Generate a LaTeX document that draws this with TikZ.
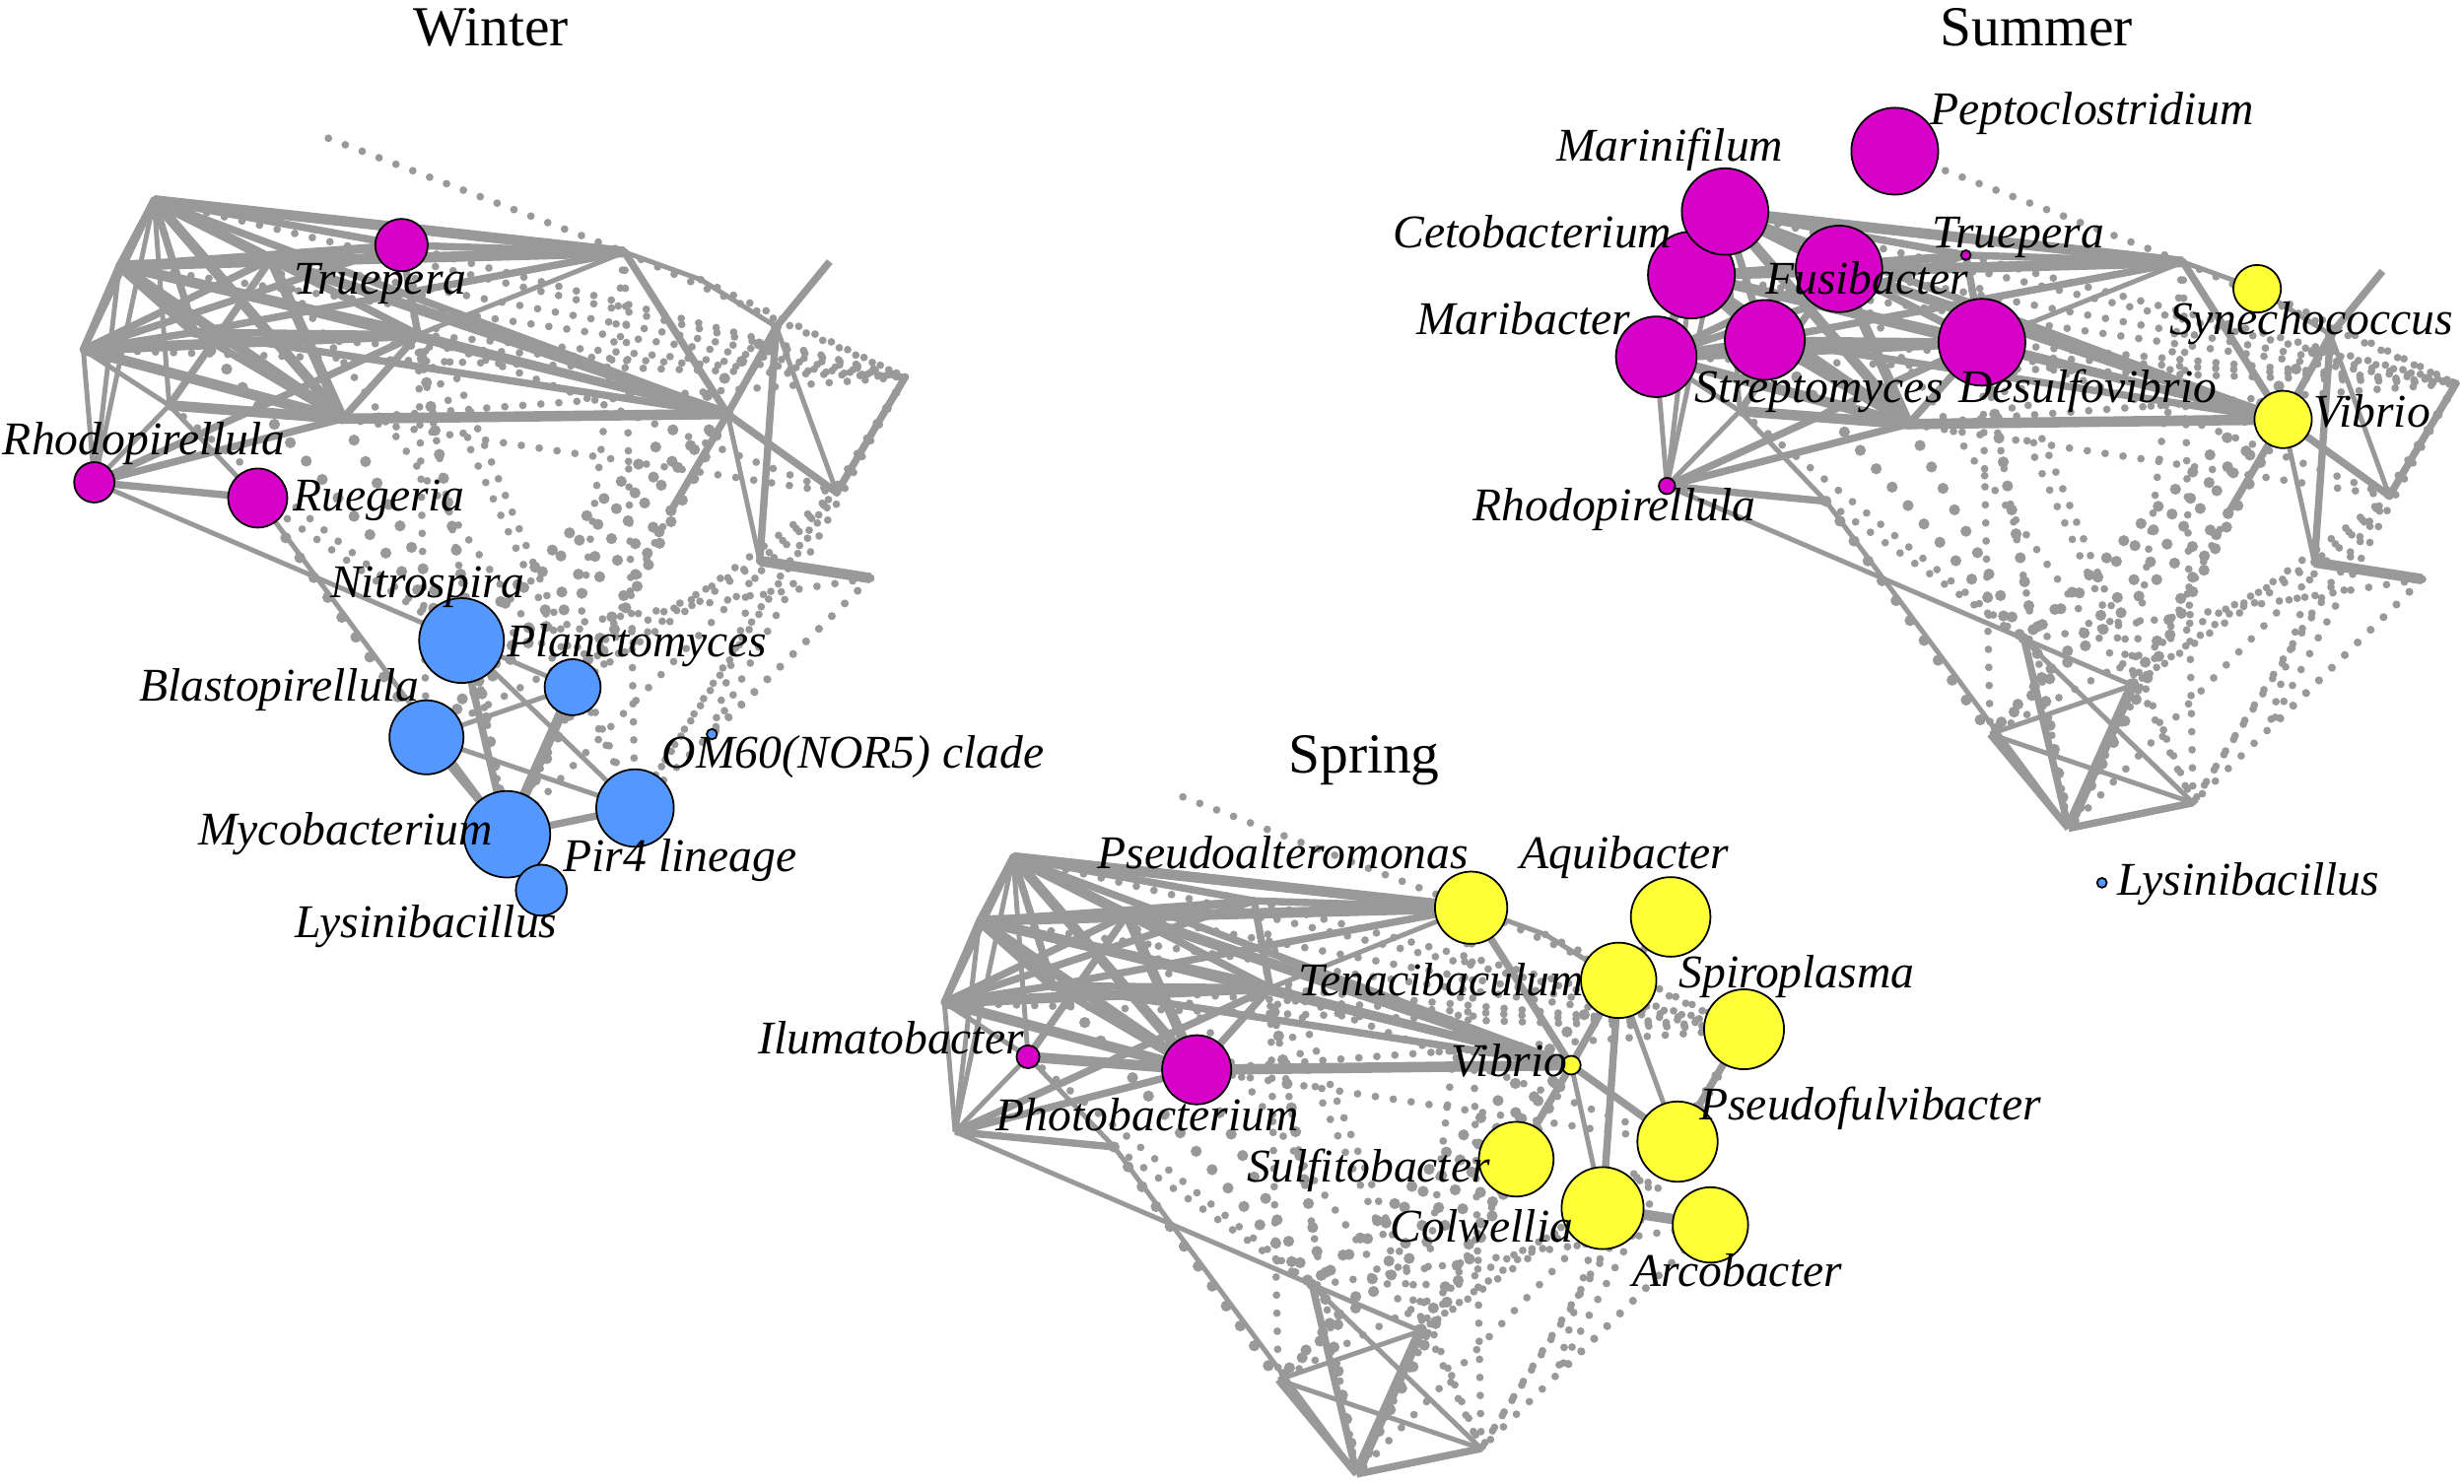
\documentclass[tikz,border=0pt]{standalone}
\usepackage{fontspec}
\setmainfont{Liberation Serif}
\definecolor{eg}{RGB}{153,153,153}
\definecolor{mag}{RGB}{214,0,200}
\definecolor{blu}{RGB}{84,152,255}
\definecolor{yel}{RGB}{255,255,56}
\tikzset{
 s1/.style={draw=eg, line width=1.4pt},
 s2/.style={draw=eg, line width=2.1pt},
 s3/.style={draw=eg, line width=3pt},
 d1/.style={draw=eg, line width=2.2pt, line cap=round, dash pattern=on 0pt off 5.2pt},
 d2/.style={draw=eg, line width=3.2pt, line cap=round, dash pattern=on 0pt off 7pt},
 vx/.style={circle, draw=black, line width=0.5pt, inner sep=0pt, minimum size=#1},
 lab/.style={font=\fontsize{13.5}{15}\selectfont\itshape, inner sep=0pt},
 ttl/.style={font=\fontsize{16.3}{18}\selectfont, inner sep=0pt},
}
\newcommand\netdraw[1]{%
 \coordinate (#1TL) at (98,127.5);
 \coordinate (#1L2) at (76,169);
 \coordinate (#1L1) at (53,222.5);
 \coordinate (#1M1) at (172.5,165);
 \coordinate (#1M2) at (124,211.5);
 \coordinate (#1H2) at (266,213);
 \coordinate (#1H1) at (218,266.5);
 \coordinate (#1Rh) at (60,307);
 \coordinate (#1Ru) at (164,317);
 \coordinate (#1Il) at (107.7,258);
 \coordinate (#1Tr) at (255.5,156);
 \coordinate (#1P0) at (209,88);
 \coordinate (#1P1) at (397.5,160.5);
 \coordinate (#1P2) at (446,178);
 \coordinate (#1P3) at (494,208);
 \coordinate (#1P4) at (528,166.5);
 \coordinate (#1P5) at (576,240);
 \coordinate (#1V) at (463,263.5);
 \coordinate (#1P6) at (532.5,313.5);
 \coordinate (#1P7) at (483.5,357);
 \coordinate (#1P8) at (554,368);
 \coordinate (#1P9) at (427,325);
 \coordinate (#1Ni) at (293.7,407.7);
 \coordinate (#1Pl) at (364.4,437.4);
 \coordinate (#1Bl) at (271.4,469.3);
 \coordinate (#1My) at (322.6,531);
 \coordinate (#1Pi) at (404.1,514.3);
 \coordinate (#1Ly) at (344.5,566.6);
 \coordinate (#1OM) at (453,467.3);
 \foreach \a/\b in {P0/P1, TL/P5, L2/P5, M1/P5, Tr/P5, P1/P5, H2/P5, H1/P5, P2/P5, M2/P5, L1/P5,
   TL/Tr, TL/M2, H2/Bl, Tr/My, Tr/Pi, H2/Pi, M1/Pl, P1/Pl, P1/Pi, P9/My, P6/Pl, P6/My, P6/Pi,
   P7/Pl, P7/Bl, P8/Pi, P8/OM, P8/Ni, P5/Pi, P5/OM, P7/OM, P6/P7, Ru/Ni, Il/Ni, H1/P6, H2/P6}
   {\draw[d1] (#1\a) -- (#1\b);}
 \foreach \a/\b in {H1/Ni, M2/Ni, H2/My, V/Ni, V/Bl, V/My, P9/Bl, Ru/Bl, P9/Pl, P3/Ni}
   {\draw[d2] (#1\a) -- (#1\b);}
 \foreach \a/\b in {TL/Rh, L2/Rh, L1/Rh, Rh/Il, Rh/Pl, Il/Ru, Ru/My, H2/P1, P1/P2, P2/P3, P3/P6,
   V/P7, Ni/Pi, Bl/Pl, Bl/Pi, TL/Il, L1/Il}
   {\draw[s1] (#1\a) -- (#1\b);}
 \foreach \a/\b in {TL/L2, TL/L1, TL/M2, TL/H2, TL/Tr, TL/V, L2/Tr, L2/M1, L2/L1, L2/V, L1/M1,
   L1/Tr, L1/M2, M1/Tr, M1/H2, M1/Il, M1/P1, M2/H2, M2/H1, M2/V, M2/P1, H2/H1, H2/Rh, H2/V,
   H2/Tr, Tr/P1, H1/Rh, Rh/Ru, P1/V, P3/P4, P3/V, P3/P7, P5/P6, V/P6, V/P9, Ni/My, Bl/My, My/Pi}
   {\draw[s2] (#1\a) -- (#1\b);}
 \foreach \a/\b in {TL/P1, TL/M1, TL/H1, L2/P1, L2/M2, L2/H2, L2/H1, L1/H2, L1/H1, M1/H1, M1/V,
   H1/V, H1/Il, Pl/My, P7/P8}
   {\draw[s3] (#1\a) -- (#1\b);}
}
\begin{document}
\begin{tikzpicture}[x=0.45216pt, y=-0.45216pt]
\useasboundingbox (0,0) rectangle (1568,944);
\fill[white] (0,0) rectangle (1568,944);

% ---------------- Winter ----------------
\begin{scope}
 \netdraw{w}
 \node[vx=15.1pt, fill=mag] (wTruepera) at (wTr) {};
 \node[vx=11.6pt, fill=mag] (wRhodo) at (wRh) {};
 \node[vx=17pt, fill=mag] (wRuegeria) at (wRu) {};
 \node[vx=24.4pt, fill=blu] (wNitro) at (wNi) {};
 \node[vx=16.1pt, fill=blu] (wPlanc) at (wPl) {};
 \node[vx=21.3pt, fill=blu] (wBlasto) at (wBl) {};
 \node[vx=22.3pt, fill=blu] (wPir) at (wPi) {};
 \node[vx=24.9pt, fill=blu] (wMyco) at (wMy) {};
 \node[vx=14.7pt, fill=blu] (wLysi) at (wLy) {};
 \node[vx=3pt, fill=blu] (wOM) at (wOM) {};
\end{scope}

% ---------------- Spring ----------------
\begin{scope}[shift={(549.4,421.6)}, scale=0.973]
 \netdraw{p}
 \node[vx=20.8pt, fill=yel] (pPseudoalt) at (pP1) {};
 \node[vx=22.9pt, fill=yel] (pAquib) at (pP4) {};
 \node[vx=21.7pt, fill=yel] (pTenac) at (pP3) {};
 \node[vx=23pt, fill=yel] (pSpiro) at (pP5) {};
 \node[vx=23.1pt, fill=yel] (pPseudof) at (pP6) {};
 \node[vx=21.5pt, fill=yel] (pSulfi) at (pP9) {};
 \node[vx=23.6pt, fill=yel] (pColw) at (pP7) {};
 \node[vx=21.7pt, fill=yel] (pArco) at (pP8) {};
 \node[vx=5.4pt, fill=yel] (pVibrio) at (pV) {};
 \node[vx=19.9pt, fill=mag] (pPhoto) at (pH1) {};
 \node[vx=6.6pt, fill=mag] (pIluma) at (pIl) {};
\end{scope}

% ---------------- Summer ----------------
\begin{scope}[shift={(1002.4,10.6)}, scale=0.973]
 \netdraw{u}
 \node[vx=25pt, fill=mag] (uCeto) at (uL2) {};
 \node[vx=24.9pt, fill=mag] (uMarini) at (uTL) {};
 \node[vx=23.2pt, fill=mag] (uMarib) at (uL1) {};
 \node[vx=23pt, fill=mag] (uStrep) at (uM2) {};
 \node[vx=24.9pt, fill=mag] (uFusi) at (uM1) {};
 \node[vx=25pt, fill=mag] (uDesulfo) at (uH2) {};
 \node[vx=25pt, fill=mag] (uPepto) at (uP0) {};
 \node[vx=2.8pt, fill=mag] (uTruepera) at (uTr) {};
 \node[vx=4.7pt, fill=mag] (uRhodo) at (uRh) {};
 \node[vx=13.7pt, fill=yel] (uSyne) at (uP2) {};
 \node[vx=16.5pt, fill=yel] (uVibrio) at (uV) {};
 \node[vx=2.8pt, fill=blu] (uLysi) at (uLy) {};
\end{scope}

% ---------------- Titles ----------------
\node[ttl, anchor=base] (tWinter) at (312.5,29) {Winter};
\node[ttl, anchor=base] (tSummer) at (1296,29) {Summer};
\node[ttl, anchor=base] (tSpring) at (868,492) {Spring};

% ---------------- Winter labels ----------------
\node[lab, anchor=base west] (lwTruepera) at (187,187) {Truepera};
\node[lab, anchor=base east] (lwRhodo) at (182,289.5) {Rhodopirellula};
\node[lab, anchor=base west] (lwRuegeria) at (186,325) {Ruegeria};
\node[lab, anchor=base east] (lwNitro) at (334,380.5) {Nitrospira};
\node[lab, anchor=base west] (lwPlanc) at (322,418) {Planctomyces};
\node[lab, anchor=base east] (lwBlasto) at (267,446.5) {Blastopirellula};
\node[lab, anchor=base west] (lwOM) at (421,489) {OM60(NOR5) clade};
\node[lab, anchor=base east] (lwMyco) at (314,538) {Mycobacterium};
\node[lab, anchor=base west] (lwPir) at (358,555) {Pir4 lineage};
\node[lab, anchor=base east] (lwLysi) at (355,597) {Lysinibacillus};

% ---------------- Summer labels ----------------
\node[lab, anchor=base west] (luPepto) at (1228,79.5) {Peptoclostridium};
\node[lab, anchor=base west] (luMarini) at (990,102.5) {Marinifilum};
\node[lab, anchor=base west] (luCeto) at (886,158) {Cetobacterium};
\node[lab, anchor=base west] (luTruepera) at (1229,158) {Truepera};
\node[lab, anchor=base west] (luFusi) at (1123,187) {Fusibacter};
\node[lab, anchor=base west] (luSyne) at (1380,213) {Synechococcus};
\node[lab, anchor=base west] (luMarib) at (901,213) {Maribacter};
\node[lab, anchor=base west] (luStrep) at (1078,256) {Streptomyces};
\node[lab, anchor=base west] (luDesulfo) at (1246,256) {Desulfovibrio};
\node[lab, anchor=base west] (luVibrio) at (1472,272) {Vibrio};
\node[lab, anchor=base west] (luRhodo) at (937,331.5) {Rhodopirellula};
\node[lab, anchor=base west] (luLysi) at (1347,570) {Lysinibacillus};

% ---------------- Spring labels ----------------
\node[lab, anchor=base west] (lpPseudoalt) at (698,553) {Pseudoalteromonas};
\node[lab, anchor=base west] (lpAquib) at (967,553) {Aquibacter};
\node[lab, anchor=base west] (lpTenac) at (826,633.5) {Tenacibaculum};
\node[lab, anchor=base west] (lpSpiro) at (1068,628.5) {Spiroplasma};
\node[lab, anchor=base east] (lpIluma) at (652,671) {Ilumatobacter};
\node[lab, anchor=base west] (lpVibrio) at (923,685) {Vibrio};
\node[lab, anchor=base west] (lpPhoto) at (633.5,720) {Photobacterium};
\node[lab, anchor=base west] (lpPseudof) at (1081,713) {Pseudofulvibacter};
\node[lab, anchor=base west] (lpSulfi) at (793.5,752.5) {Sulfitobacter};
\node[lab, anchor=base west] (lpColw) at (884.5,790.5) {Colwellia};
\node[lab, anchor=base west] (lpArco) at (1038.5,818.5) {Arcobacter};
\end{tikzpicture}
\end{document}
